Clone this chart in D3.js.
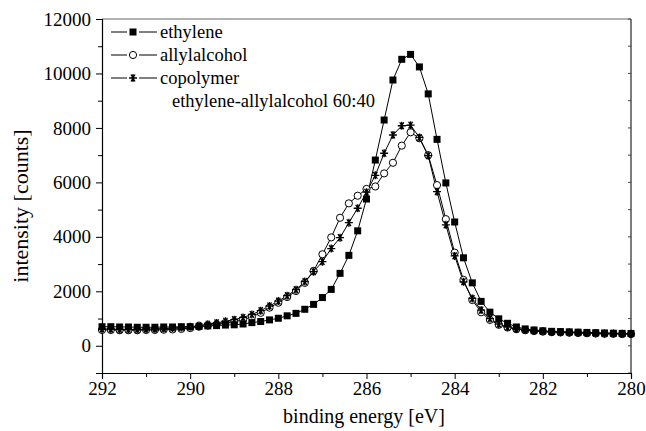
<!DOCTYPE html>
<html>
<head>
<meta charset="utf-8">
<script src="https://cdn.jsdelivr.net/npm/d3@7"></script>
<style>
  html, body { margin: 0; padding: 0; background: #fff; }
</style>
</head>
<body>
<svg id="chart" width="646" height="431"></svg>
<script>
// ---- data ----
const energy = [292.0,291.8,291.6,291.4,291.2,291.0,290.8,290.6,290.4,290.2,
                290.0,289.8,289.6,289.4,289.2,289.0,288.8,288.6,288.4,288.2,
                288.0,287.8,287.6,287.4,287.2,287.0,286.8,286.6,286.4,286.2,
                286.0,285.8,285.6,285.4,285.2,285.0,284.8,284.6,284.4,284.2,
                284.0,283.8,283.6,283.4,283.2,283.0,282.8,282.6,282.4,282.2,
                282.0,281.8,281.6,281.4,281.2,281.0,280.8,280.6,280.4,280.2,280.0];
const ethylene = [700,700,690,690,680,680,680,690,690,700,
                  700,710,730,740,760,770,800,850,890,950,
                  1010,1100,1190,1340,1520,1770,2070,2660,3320,4220,
                  5390,6820,8290,9760,10520,10700,10240,9250,7580,5980,
                  4545,3230,2310,1630,1235,990,825,690,620,580,
                  550,530,520,510,500,490,480,470,460,455,450];
const allylalcohol = [580,580,570,570,570,580,580,590,600,620,
                      650,700,740,780,840,880,960,1060,1210,1400,
                      1580,1790,2010,2310,2750,3360,3980,4700,5230,5510,
                      5760,5850,6330,6720,7350,7840,7620,7000,5900,4650,
                      3420,2420,1680,1230,950,770,670,610,570,540,
                      520,500,490,480,470,460,450,440,440,430,430];
const copolymer = [620,610,600,600,600,610,620,630,650,670,
                   700,740,790,840,900,960,1040,1150,1290,1460,
                   1640,1840,2060,2360,2720,3090,3570,3970,4520,5050,
                   5640,6260,7070,7740,8080,8100,7650,6980,5660,4440,
                   3300,2350,1740,1310,1000,800,690,620,580,550,
                   530,510,500,490,480,470,460,450,450,440,440];
const seriesNames = ["ethylene", "allylalcohol", "copolymer"];
const legendNote = "ethylene-allylalcohol 60:40";
const xTicks = [292, 290, 288, 286, 284, 282, 280];
const yTicks = [0, 2000, 4000, 6000, 8000, 10000, 12000];
const xLabel = "binding energy [eV]";
const yLabel = "intensity [counts]";

// ---- layout ----
const FONT = "Liberation Serif";
const svg = d3.select("#chart");
const L = 102, R = 631, T = 19, B = 373;
const x = d3.scaleLinear().domain([292, 280]).range([L, R]);
const y = d3.scaleLinear().domain([-1000, 12000]).range([B, T]);

// frame (top / right)
svg.append("line").attr("x1", L).attr("x2", R).attr("y1", T).attr("y2", T)
  .attr("stroke", "#666").attr("stroke-width", 1.2);
svg.append("line").attr("x1", R).attr("x2", R).attr("y1", T).attr("y2", B)
  .attr("stroke", "#444").attr("stroke-width", 1.4);

// right minor inward ticks
const rightTicks = d3.range(-1000, 12001, 1000);
svg.append("g").selectAll("line").data(rightTicks).join("line")
  .attr("x1", R - 3).attr("x2", R).attr("y1", d => y(d)).attr("y2", d => y(d))
  .attr("stroke", "#444");

// bottom axis
const xAxis = d3.axisBottom(x).tickValues(xTicks).tickSize(6).tickPadding(3).tickFormat(d3.format("d"));
const gx = svg.append("g").attr("transform", `translate(0,${B})`).call(xAxis);
gx.attr("font-family", FONT).attr("font-size", 19);
gx.select(".domain").attr("stroke", "#000").attr("stroke-width", 1.2);
gx.selectAll(".tick line").attr("stroke", "#000");
gx.selectAll("text").style("font-family", FONT).style("font-size", "19px").attr("fill", "#000");
const xMinor = d3.axisBottom(x).tickValues([291, 289, 287, 285, 283, 281]).tickSize(4).tickFormat("");
const gxm = svg.append("g").attr("transform", `translate(0,${B})`).call(xMinor);
gxm.select(".domain").remove();

// left axis
const yAxis = d3.axisLeft(y).tickValues(yTicks).tickSize(6).tickPadding(5).tickFormat(d3.format("d"));
const gy = svg.append("g").attr("transform", `translate(${L},0)`).call(yAxis);
gy.attr("font-family", FONT).attr("font-size", 19);
gy.select(".domain").attr("stroke", "#000").attr("stroke-width", 1.2);
gy.selectAll(".tick line").attr("stroke", "#000");
gy.selectAll("text").style("font-family", FONT).style("font-size", "19px").attr("fill", "#000");
const yMinor = d3.axisLeft(y).tickValues([-1000, 1000, 3000, 5000, 7000, 9000, 11000]).tickSize(4).tickFormat("");
const gym = svg.append("g").attr("transform", `translate(${L},0)`).call(yMinor);
gym.select(".domain").remove();

// axis titles
svg.append("text").attr("x", 364).attr("y", 423).attr("text-anchor", "middle")
  .style("font-size", "20px").style("font-family", FONT).text(xLabel);
svg.append("text").attr("transform", `translate(28,206) rotate(-90)`)
  .attr("text-anchor", "middle").style("font-size", "22px").style("font-family", FONT).text(yLabel);

// markers
function drawMarker(g, type, cx, cy) {
  if (type === 0) {
    g.append("rect").attr("x", cx - 3.5).attr("y", cy - 3.5).attr("width", 7).attr("height", 7)
      .attr("fill", "#000");
  } else if (type === 1) {
    g.append("circle").attr("cx", cx).attr("cy", cy).attr("r", 3.6)
      .attr("fill", "#fff").attr("stroke", "#000").attr("stroke-width", 1);
  } else {
    const s = 4;
    const p = `M${cx - s},${cy}L${cx + s},${cy}` +
      `M${cx - s * 0.5},${cy - s * 0.87}L${cx + s * 0.5},${cy + s * 0.87}` +
      `M${cx + s * 0.5},${cy - s * 0.87}L${cx - s * 0.5},${cy + s * 0.87}` +
      `M${cx},${cy - s}L${cx},${cy + s}`;
    g.append("path").attr("d", p).attr("stroke", "#000").attr("stroke-width", 1.3).attr("fill", "none");
  }
}

const allSeries = [ethylene, allylalcohol, copolymer];
const line = d3.line().x(d => x(d[0])).y(d => y(d[1]));
const plot = svg.append("g");
allSeries.forEach((vals, i) => {
  const pts = energy.map((e, k) => [e, vals[k]]);
  plot.append("path").attr("d", line(pts)).attr("fill", "none")
    .attr("stroke", "#000").attr("stroke-width", 1);
});
[1, 2, 0].forEach(i => {
  const g = plot.append("g");
  energy.forEach((e, k) => drawMarker(g, i, x(e), y(allSeries[i][k])));
});

// legend
const legY = [32, 55, 78];
const lg = svg.append("g");
seriesNames.forEach((name, i) => {
  lg.append("line").attr("x1", 111).attr("x2", 157).attr("y1", legY[i]).attr("y2", legY[i])
    .attr("stroke", "#000").attr("stroke-width", 1);
  lg.append("rect").attr("x", 127).attr("y", legY[i] - 6).attr("width", 12).attr("height", 12).attr("fill", "#fff");
  drawMarker(lg, i, 133, legY[i]);
  lg.append("text").attr("x", 160).attr("y", legY[i] + 5.5).style("font-size", "18.5px")
    .style("font-family", FONT).text(name);
});
lg.append("text").attr("x", 172).attr("y", 106.5).style("font-size", "18.5px")
  .style("font-family", FONT).text(legendNote);
</script>
</body>
</html>
